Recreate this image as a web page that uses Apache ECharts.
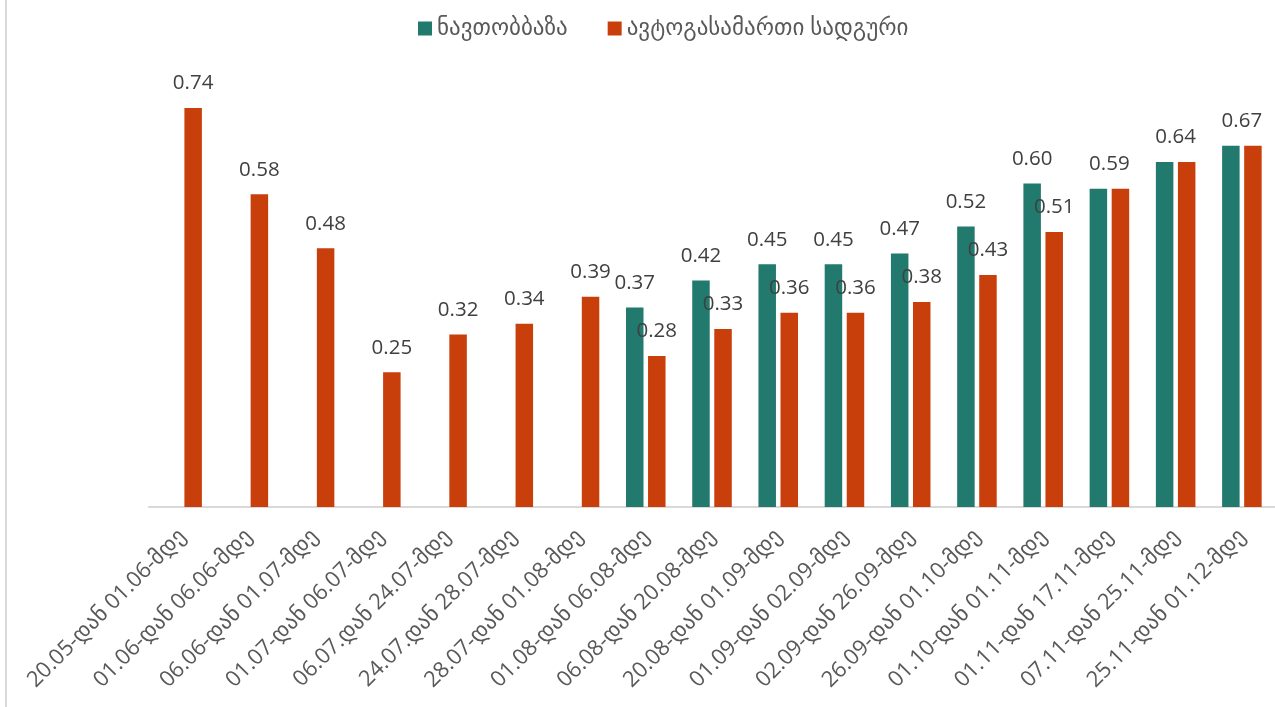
<!DOCTYPE html>
<html>
<head>
<meta charset="utf-8">
<script src="https://cdn.jsdelivr.net/npm/echarts@6/dist/echarts.min.js"></script>
<style>
html,body{margin:0;padding:0;background:#fff;}
#chart{width:1275px;height:707px;}
</style>
</head>
<body>
<div id="chart"></div>
<script>
const categories = [
  "20.05-დან 01.06-მდე", "01.06-დან 06.06-მდე", "06.06-დან 01.07-მდე", "01.07-დან 06.07-მდე",
  "06.07.დან 24.07-მდე", "24.07.დან 28.07-მდე", "28.07-დან 01.08-მდე", "01.08-დან 06.08-მდე",
  "06.08-დან 20.08-მდე", "20.08-დან 01.09-მდე", "01.09-დან 02.09-მდე", "02.09-დან 26.09-მდე",
  "26.09-დან 01.10-მდე", "01.10-დან 01.11-მდე", "01.11-დან 17.11-მდე", "07.11-დან 25.11-მდე",
  "25.11-დან 01.12-მდე"
];
const seriesNames = ["ნავთობბაზა", "ავტოგასამართი სადგური"];
const oilDepot = [null, null, null, null, null, null, null, 0.37, 0.42, 0.45, 0.45, 0.47, 0.52, 0.60, 0.59, 0.64, 0.67];
const gasStation = [0.74, 0.58, 0.48, 0.25, 0.32, 0.34, 0.39, 0.28, 0.33, 0.36, 0.36, 0.38, 0.43, 0.51, 0.59, 0.64, 0.67];

const FONT = "'Open Sans', 'DejaVu Sans', sans-serif";
const TEAL = '#22796D';
const RED = '#C93F0C';

const tealData = oilDepot.map((v, i) => {
  if (v === null) return null;
  if (v === gasStation[i]) {
    return { value: v, label: { offset: [11, 0] } };
  }
  return v;
});
const redData = gasStation.map((v, i) => {
  if (oilDepot[i] !== null && oilDepot[i] === v) {
    return { value: v, label: { show: false } };
  }
  return v;
});

const labelStyle = {
  show: true,
  position: 'top',
  distance: 14,
  fontSize: 20.5,
  fontFamily: FONT,
  color: '#404040',
  formatter: p => p.value.toFixed(2)
};

const chart = echarts.init(document.getElementById('chart'), null, { renderer: 'canvas' });
chart.setOption({
  animation: false,
  backgroundColor: '#fff',
  textStyle: { fontFamily: FONT },
  graphic: [{
    type: 'line',
    shape: { x1: 6, y1: 0, x2: 6, y2: 707 },
    style: { stroke: '#d9d9d9', lineWidth: 2 }
  }],
  legend: {
    left: 418,
    top: 17,
    padding: 0,
    itemWidth: 14,
    itemHeight: 14,
    itemGap: 40,
    icon: 'rect',
    textStyle: { fontSize: 23, color: '#595959', fontFamily: FONT },
    data: seriesNames
  },
  grid: { left: 149, right: 0, top: 75.6, bottom: 200, containLabel: false },
  xAxis: {
    type: 'category',
    data: categories,
    axisLine: { lineStyle: { color: '#d9d9d9', width: 2 } },
    axisTick: { show: false },
    axisLabel: {
      rotate: 45,
      interval: 0,
      margin: 26,
      fontSize: 22,
      color: '#595959',
      fontFamily: FONT
    }
  },
  yAxis: {
    type: 'value',
    min: 0,
    max: 0.8,
    show: false,
    splitLine: { show: false }
  },
  series: [
    {
      name: seriesNames[0],
      type: 'bar',
      data: tealData,
      barWidth: 17.5,
      barGap: '26%',
      itemStyle: { color: TEAL },
      label: labelStyle
    },
    {
      name: seriesNames[1],
      type: 'bar',
      data: redData,
      barWidth: 17.5,
      barGap: '26%',
      itemStyle: { color: RED },
      label: labelStyle
    }
  ]
});
</script>
</body>
</html>
